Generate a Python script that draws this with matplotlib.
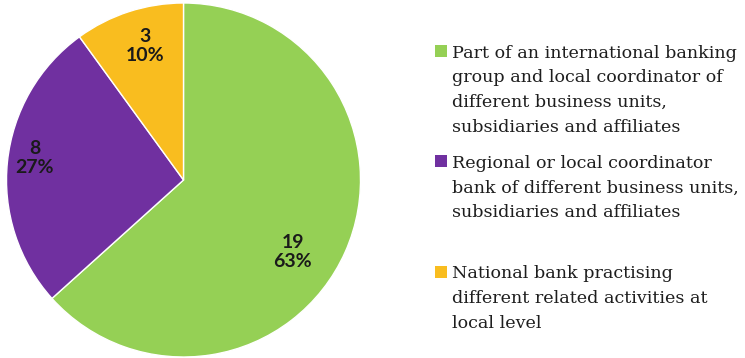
import numpy as np
import matplotlib
matplotlib.use("Agg")
import matplotlib.pyplot as plt
from matplotlib.patches import Rectangle

# Bank roles: counts per category
categories = [
    "Part of an international banking\ngroup and local coordinator of\ndifferent business units,\nsubsidiaries and affiliates",
    "Regional or local coordinator\nbank of different business units,\nsubsidiaries and affiliates",
    "National bank practising\ndifferent related activities at\nlocal level",
]
counts = [19, 8, 3]
colors = ["#95D055", "#7030A0", "#F9BD1F"]

# label placement (radius fraction, angle shift in degrees)
label_r = [0.74, 0.85, 0.79]
label_shift = [-9.5, -2.5, -2.0]

W, H = 745, 358
fig = plt.figure(figsize=(W / 100, H / 100), dpi=100)

# pie axes: centre (183.5, 180) px, radius 177 px
cx, cy, R = 183.5, 180, 177
ax = fig.add_axes([(cx - R) / W, (H - cy - R) / H, 2 * R / W, 2 * R / H])
wedges, _ = ax.pie(counts, colors=colors, startangle=90, counterclock=False,
                   radius=1, wedgeprops=dict(edgecolor="white", linewidth=1))
ax.set_xlim(-1, 1)
ax.set_ylim(-1, 1)
ax.set_aspect("equal")
ax.axis("off")

total = sum(counts)
for w, v, r, off in zip(wedges, counts, label_r, label_shift):
    ang = np.deg2rad((w.theta1 + w.theta2) / 2 + off)
    ax.text(r * np.cos(ang), r * np.sin(ang), f"{v}\n{v / total:.0%}",
            ha="center", va="center", fontsize=14, fontweight="bold",
            family="Lato", color="#1a1a1a", linespacing=1.15)

# legend drawn by hand, one line at a time
first_baseline = [57.7, 167.7, 278.3]
line_step = 24.7
box = 12
for label, col, y0 in zip(categories, colors, first_baseline):
    fig.patches.append(Rectangle(((435) / W, (H - y0 + 0.5) / H), box / W, box / H,
                                 transform=fig.transFigure, facecolor=col,
                                 edgecolor="none"))
    for i, line in enumerate(label.split("\n")):
        fig.text(452 / W, (H - y0 - i * line_step) / H, line, ha="left",
                 va="baseline", fontsize=12.6, family="DejaVu Serif",
                 color="#1e1e1e")

fig.savefig("out.png", dpi=100)
